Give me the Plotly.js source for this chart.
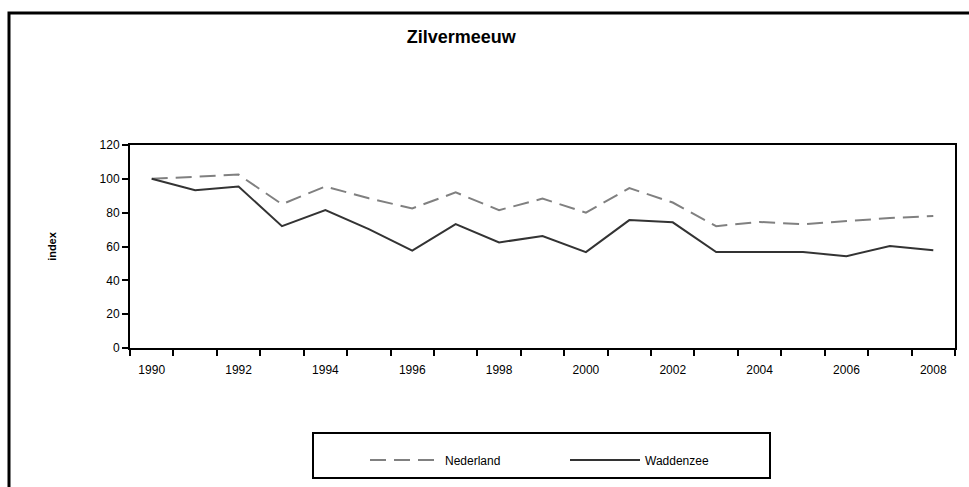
<!DOCTYPE html>
<html>
<head>
<meta charset="utf-8">
<script src="https://cdn.plot.ly/plotly-3.0.1.min.js"></script>
<style>html,body{margin:0;padding:0;background:#fff;}#chart{width:969px;height:487px;}</style>
</head>
<body>
<div id="chart"></div>
<script>
const years = [1990,1991,1992,1993,1994,1995,1996,1997,1998,1999,2000,2001,2002,2003,2004,2005,2006,2007,2008];
const nederland = [100,101.4,102.5,85,95.5,88.5,82.5,92,81.5,88.3,80,94.5,86,72,74.5,73.2,75.2,76.8,78];
const waddenzee = [100,93.2,95.4,72,81.5,70.3,57.6,73.2,62.4,66.2,56.7,75.6,74.3,56.7,56.7,56.7,54.3,60.3,57.8];
const tickLabelYears = years.filter((y, i) => i % 2 === 0);
const yTicks = [0,20,40,60,80,100,120];

const boundaries = years.map(y => y - 0.5).concat([years[years.length-1] + 0.5]);
const xr = [years[0] - 0.5, years[years.length-1] + 0.5];
const fnt = {family: 'Liberation Sans, Arial, sans-serif', size: 12, color: '#000'};

const traces = [
  {x: years, y: nederland, name: 'Nederland', type: 'scatter', mode: 'lines',
   line: {color: '#808080', width: 2, dash: '16px,8px'}},
  {x: years, y: waddenzee, name: 'Waddenzee', type: 'scatter', mode: 'lines',
   line: {color: '#333333', width: 2}},
  {x: tickLabelYears, y: tickLabelYears.map(() => null), xaxis: 'x2', showlegend: false,
   hoverinfo: 'skip', type: 'scatter', mode: 'lines'}
];

const layout = {
  width: 969, height: 487,
  margin: {l: 130, r: 14, t: 145, b: 139},
  paper_bgcolor: '#fff', plot_bgcolor: '#fff',
  font: fnt,
  showlegend: true,
  title: {text: '<b>Zilvermeeuw</b>', font: {family: 'Liberation Sans, Arial, sans-serif', size: 18, color: '#000'},
          xref: 'container', x: 0.476, xanchor: 'center', yref: 'container', y: 1 - 37/487, yanchor: 'middle'},
  xaxis: {range: xr, tickmode: 'array', tickvals: boundaries, ticktext: boundaries.map(() => ''),
          ticks: 'outside', ticklen: 6, tickwidth: 2, tickcolor: '#000',
          showline: true, linecolor: '#000', linewidth: 2, mirror: true, showgrid: false, zeroline: false, fixedrange: true},
  xaxis2: {range: xr, overlaying: 'x', side: 'bottom', tickmode: 'array', tickvals: tickLabelYears,
           ticktext: tickLabelYears.map(String), ticks: 'outside', ticklen: 11, tickcolor: 'rgba(0,0,0,0)',
           showline: false, showgrid: false, zeroline: false, tickfont: fnt},
  yaxis: {range: [0, 120], tickmode: 'array', tickvals: yTicks, ticks: 'outside', ticklen: 6, tickwidth: 2,
          tickcolor: '#000', showline: true, linecolor: '#000', linewidth: 2, mirror: true, showgrid: false,
          zeroline: false, tickfont: fnt,
          title: {text: '<b>index</b>', font: {family: 'Liberation Sans, Arial, sans-serif', size: 11, color: '#000'}, standoff: 41}},
  legend: {orientation: 'h', x: (365-130)/825, xanchor: 'left', y: (348-460)/203, yanchor: 'middle',
           entrywidth: 115, entrywidthmode: 'pixels', itemwidth: 70, font: {family: 'Liberation Sans, Arial, sans-serif', size: 12, color: '#000'},
           bgcolor: 'rgba(0,0,0,0)', borderwidth: 0},
  shapes: [
    {type: 'rect', xref: 'paper', yref: 'paper', x0: (313-130)/825, x1: (770-130)/825, y0: (348-478)/203, y1: (348-433)/203,
     line: {color: '#000', width: 2}, fillcolor: 'rgba(0,0,0,0)'},
    {type: 'rect', xref: 'paper', yref: 'paper', x0: (9-130)/825, x1: (990-130)/825, y0: (348-495)/203, y1: (348-13)/203,
     line: {color: '#000', width: 3}, fillcolor: 'rgba(0,0,0,0)'}
  ]
};

Plotly.newPlot('chart', traces, layout, {staticPlot: true, displayModeBar: false});
</script>
</body>
</html>
